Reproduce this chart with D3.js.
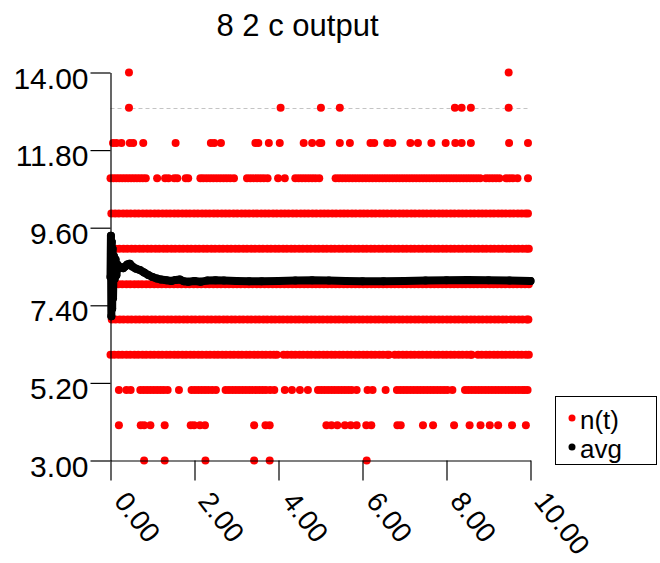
<!DOCTYPE html>
<html>
<head>
<meta charset="utf-8">
<script src="https://cdn.jsdelivr.net/npm/d3@7"></script>
<style>
  html, body { margin: 0; padding: 0; background: #fff; }
  svg { display: block; }
  text { font-family: "Liberation Sans", Arial, Helvetica, sans-serif; }
</style>
</head>
<body>
<svg id="chart" width="660" height="563"></svg>
<script>
// ---------------- data ----------------
const titleText = "8 2 c output";
const xTicks = [0, 2, 4, 6, 8, 10];
const yTicks = [3.0, 5.2, 7.4, 9.6, 11.8, 14.0];
const refLineValue = 13;
const seriesNames = ["n(t)", "avg"];

// n(t): times at which each integer level occurs
const n3 = [0.8, 1.29, 2.26, 3.42, 3.79, 6.1];
const n4 = [0.2, 0.72, 0.8, 0.95, 1.29, 1.91, 1.99, 2.13, 2.25, 3.42, 3.69, 3.79, 5.14, 5.26, 5.4, 5.58, 5.72, 5.86, 6.09, 6.21, 6.83, 6.91, 7.44, 7.68, 8.18, 8.55, 8.81, 9.03, 9.23, 9.56, 9.89];
const n5 = [0.2, 0.38, 0.48, 0.71, 0.79, 0.87, 0.95, 1.03, 1.11, 1.19, 1.27, 1.36, 1.63, 1.93, 2.01, 2.09, 2.17, 2.25, 2.33, 2.42, 2.51, 2.74, 2.82, 2.9, 2.98, 3.06, 3.14, 3.22, 3.3, 3.38, 3.46, 3.54, 3.62, 3.7, 3.8, 3.9, 4.15, 4.32, 4.51, 4.7, 4.94, 5.02, 5.1, 5.18, 5.26, 5.34, 5.42, 5.5, 5.58, 5.66, 5.74, 5.86, 6.12, 6.24, 6.55, 6.82, 6.9, 6.98, 7.06, 7.14, 7.22, 7.3, 7.38, 7.46, 7.54, 7.62, 7.7, 7.78, 7.86, 7.94, 8.02, 8.14, 8.44, 8.52, 8.6, 8.68, 8.76, 8.84, 8.92, 9.0, 9.08, 9.16, 9.24, 9.32, 9.4, 9.48, 9.56, 9.64, 9.72, 9.8, 9.86, 9.93];
const n6 = [0.0, 0.09, 0.19, 0.28, 0.38, 0.47, 0.57, 0.66, 0.76, 0.85, 0.95, 1.04, 1.14, 1.23, 1.33, 1.42, 1.52, 1.61, 1.71, 1.8, 1.9, 1.99, 2.09, 2.18, 2.28, 2.37, 2.47, 2.56, 2.66, 2.75, 2.85, 2.94, 3.04, 3.13, 3.23, 3.32, 3.42, 3.51, 3.61, 3.7, 3.8, 3.89, 3.96, 4.12, 4.21, 4.31, 4.4, 4.5, 4.59, 4.69, 4.78, 4.88, 4.97, 5.07, 5.16, 5.26, 5.35, 5.45, 5.54, 5.64, 5.73, 5.83, 5.92, 6.02, 6.11, 6.21, 6.3, 6.4, 6.49, 6.59, 6.63, 6.77, 6.86, 6.96, 7.05, 7.15, 7.24, 7.34, 7.43, 7.53, 7.62, 7.72, 7.81, 7.91, 8.0, 8.1, 8.19, 8.29, 8.38, 8.48, 8.57, 8.6, 8.75, 8.84, 8.94, 9.03, 9.13, 9.22, 9.32, 9.41, 9.51, 9.6, 9.7, 9.79, 9.89, 9.96];
const n7 = [0.03, 0.12, 0.22, 0.31, 0.41, 0.5, 0.6, 0.69, 0.79, 0.88, 0.98, 1.07, 1.17, 1.26, 1.36, 1.45, 1.55, 1.64, 1.74, 1.83, 1.93, 2.02, 2.12, 2.21, 2.31, 2.4, 2.5, 2.59, 2.69, 2.78, 2.88, 2.97, 3.07, 3.16, 3.26, 3.35, 3.45, 3.54, 3.64, 3.73, 3.83, 3.92, 4.02, 4.11, 4.21, 4.3, 4.4, 4.49, 4.59, 4.68, 4.78, 4.87, 4.97, 5.06, 5.16, 5.25, 5.35, 5.44, 5.54, 5.63, 5.73, 5.82, 5.92, 6.01, 6.11, 6.2, 6.3, 6.39, 6.49, 6.58, 6.68, 6.77, 6.87, 6.96, 7.06, 7.15, 7.25, 7.34, 7.44, 7.53, 7.63, 7.72, 7.82, 7.91, 8.01, 8.1, 8.2, 8.29, 8.39, 8.48, 8.58, 8.67, 8.77, 8.86, 8.96, 9.05, 9.15, 9.24, 9.34, 9.43, 9.53, 9.62, 9.72, 9.81, 9.91, 9.95];
const n8 = [0.1, 0.19, 0.28, 0.38, 0.47, 0.57, 0.66, 0.75, 0.85, 0.94, 1.04, 1.13, 1.22, 1.32, 1.41, 1.51, 1.6, 1.69, 1.79, 1.88, 1.98, 2.07, 2.16, 2.26, 2.35, 2.45, 2.54, 2.63, 2.73, 2.82, 2.92, 3.01, 3.1, 3.2, 3.29, 3.39, 3.48, 3.57, 3.67, 3.76, 3.86, 3.95, 4.04, 4.14, 4.23, 4.33, 4.42, 4.51, 4.61, 4.7, 4.8, 4.89, 4.98, 5.08, 5.17, 5.27, 5.36, 5.45, 5.55, 5.64, 5.74, 5.83, 5.92, 6.02, 6.11, 6.21, 6.3, 6.39, 6.49, 6.58, 6.68, 6.77, 6.86, 6.96, 7.05, 7.15, 7.24, 7.33, 7.43, 7.52, 7.62, 7.71, 7.8, 7.9, 7.99, 8.09, 8.18, 8.27, 8.37, 8.46, 8.56, 8.65, 8.74, 8.84, 8.93, 9.03, 9.12, 9.21, 9.31, 9.4, 9.5, 9.59, 9.68, 9.78, 9.87, 9.96];
const n9 = [0.12, 0.21, 0.31, 0.4, 0.5, 0.59, 0.69, 0.78, 0.88, 0.97, 1.07, 1.16, 1.26, 1.35, 1.45, 1.54, 1.64, 1.73, 1.83, 1.92, 2.02, 2.11, 2.21, 2.3, 2.4, 2.49, 2.59, 2.68, 2.78, 2.87, 2.97, 3.06, 3.16, 3.25, 3.35, 3.44, 3.54, 3.63, 3.73, 3.82, 3.92, 4.01, 4.11, 4.2, 4.3, 4.39, 4.49, 4.58, 4.68, 4.77, 4.87, 4.96, 5.06, 5.15, 5.25, 5.34, 5.44, 5.53, 5.63, 5.72, 5.82, 5.91, 6.01, 6.1, 6.2, 6.29, 6.39, 6.48, 6.58, 6.67, 6.77, 6.86, 6.96, 7.05, 7.15, 7.24, 7.34, 7.43, 7.53, 7.62, 7.72, 7.81, 7.91, 8.0, 8.1, 8.19, 8.29, 8.38, 8.48, 8.57, 8.67, 8.76, 8.86, 8.95, 9.05, 9.14, 9.24, 9.33, 9.43, 9.52, 9.62, 9.71, 9.81, 9.9, 9.96];
const n10 = [0.02, 0.11, 0.2, 0.3, 0.39, 0.48, 0.58, 0.67, 0.77, 0.86, 0.95, 1.05, 1.14, 1.24, 1.33, 1.42, 1.52, 1.61, 1.71, 1.8, 1.89, 1.99, 2.08, 2.18, 2.27, 2.36, 2.46, 2.55, 2.65, 2.74, 2.83, 2.93, 3.02, 3.12, 3.21, 3.3, 3.4, 3.49, 3.59, 3.68, 3.77, 3.87, 3.96, 4.06, 4.15, 4.24, 4.34, 4.43, 4.53, 4.62, 4.71, 4.81, 4.9, 5.0, 5.09, 5.18, 5.28, 5.37, 5.47, 5.56, 5.65, 5.75, 5.84, 5.94, 6.03, 6.12, 6.22, 6.31, 6.41, 6.5, 6.59, 6.69, 6.78, 6.88, 6.97, 7.06, 7.16, 7.25, 7.35, 7.44, 7.53, 7.63, 7.72, 7.82, 7.91, 8.0, 8.1, 8.19, 8.29, 8.38, 8.47, 8.57, 8.66, 8.76, 8.85, 8.94, 9.04, 9.13, 9.23, 9.32, 9.41, 9.51, 9.6, 9.7, 9.79, 9.88, 9.94];
const n11 = [0.0, 0.07, 0.14, 0.21, 0.28, 0.35, 0.42, 0.49, 0.56, 0.63, 0.7, 0.77, 0.84, 1.11, 1.3, 1.38, 1.52, 1.59, 1.79, 1.85, 2.14, 2.21, 2.29, 2.37, 2.45, 2.53, 2.61, 2.69, 2.77, 2.85, 2.94, 3.25, 3.33, 3.41, 3.49, 3.57, 3.65, 3.74, 3.99, 4.15, 4.4, 4.48, 4.56, 4.64, 4.72, 4.8, 4.88, 4.97, 5.36, 5.44, 5.52, 5.6, 5.68, 5.76, 5.84, 5.92, 6.0, 6.08, 6.16, 6.24, 6.32, 6.4, 6.48, 6.56, 6.64, 6.72, 6.8, 6.88, 6.96, 7.04, 7.12, 7.2, 7.28, 7.36, 7.44, 7.52, 7.6, 7.68, 7.76, 7.84, 7.92, 8.0, 8.08, 8.16, 8.24, 8.32, 8.4, 8.48, 8.56, 8.64, 8.72, 8.8, 8.94, 9.02, 9.1, 9.18, 9.26, 9.42, 9.5, 9.58, 9.69, 9.94];
const n12 = [0.06, 0.14, 0.26, 0.46, 0.54, 0.78, 1.55, 2.39, 2.47, 2.63, 3.45, 3.52, 3.77, 4.03, 4.6, 4.8, 4.98, 5.02, 5.46, 5.7, 6.19, 6.28, 6.59, 6.71, 7.14, 7.32, 7.64, 7.98, 8.21, 8.36, 8.58, 9.49, 9.94];
const n13 = [0.44, 4.05, 5.01, 5.46, 8.2, 8.36, 8.58, 9.48];
const n14 = [0.44, 9.48];
const nLevels = [3, 4, 5, 6, 7, 8, 9, 10, 11, 12, 13, 14];
const nTimes = [n3, n4, n5, n6, n7, n8, n9, n10, n11, n12, n13, n14];

// running average
const avgT = [0, 0.01, 0.02, 0.03, 0.04, 0.05, 0.06, 0.08, 0.1, 0.12, 0.14, 0.17, 0.2, 0.25, 0.3, 0.35, 0.4, 0.46, 0.52, 0.6, 0.7, 0.8, 0.9, 1.0, 1.1, 1.2, 1.33, 1.45, 1.55, 1.65, 1.75, 1.85, 2.0, 2.15, 2.3, 2.5, 2.7, 3.0, 3.3, 3.6, 4.0, 4.4, 4.8, 5.2, 5.6, 6.0, 6.5, 7.0, 7.5, 8.0, 8.5, 9.0, 9.5, 10.0];
const avgV = [8.2, 9.37, 7.09, 9.2, 7.3, 9.0, 7.6, 8.8, 8.15, 8.7, 8.25, 8.55, 8.47, 8.48, 8.45, 8.5, 8.56, 8.58, 8.5, 8.44, 8.4, 8.33, 8.26, 8.2, 8.16, 8.13, 8.11, 8.09, 8.12, 8.13, 8.08, 8.07, 8.09, 8.07, 8.1, 8.11, 8.1, 8.09, 8.08, 8.08, 8.09, 8.1, 8.11, 8.1, 8.09, 8.08, 8.08, 8.09, 8.1, 8.11, 8.12, 8.11, 8.1, 8.09];

// ---------------- drawing ----------------
const svg = d3.select("#chart");
const x = d3.scaleLinear().domain([0, 10]).range([110.5, 530.5]);
const y = d3.scaleLinear().domain([3, 14]).range([460.5, 72.5]);
const fmt = d3.format(".2f");

// title
svg.append("text")
  .attr("x", 297.5).attr("y", 36)
  .attr("text-anchor", "middle")
  .attr("font-size", 31)
  .attr("fill", "#000")
  .text(titleText);

// reference dashed line
svg.append("line")
  .attr("x1", x(0)).attr("x2", x(10))
  .attr("y1", Math.round(y(refLineValue)) + 0.5).attr("y2", Math.round(y(refLineValue)) + 0.5)
  .attr("stroke", "#c4c4c4").attr("stroke-width", 1)
  .attr("stroke-dasharray", "4,3");

// n(t) points
const nPts = [];
nLevels.forEach((lv, i) => nTimes[i].forEach(t => nPts.push({ t, v: lv })));
svg.append("g").selectAll("circle").data(nPts).join("circle")
  .attr("cx", d => x(d.t)).attr("cy", d => y(d.v))
  .attr("r", 4).attr("fill", "#ff0000");

// avg
const avgPts = avgT.map((t, i) => ({ t, v: avgV[i] }));
svg.append("path")
  .datum(avgPts)
  .attr("fill", "none").attr("stroke", "#000")
  .attr("stroke-width", 8)
  .attr("stroke-linejoin", "round").attr("stroke-linecap", "round")
  .attr("d", d3.line().x(d => x(d.t)).y(d => y(d.v)));
svg.append("g").selectAll("circle").data(avgPts).join("circle")
  .attr("cx", d => x(d.t)).attr("cy", d => y(d.v))
  .attr("r", 4).attr("fill", "#000");

// axes
const yAxis = svg.append("g")
  .attr("transform", `translate(${x(0)},0)`)
  .call(d3.axisLeft(y).tickValues(yTicks).tickFormat(fmt).tickSize(20).tickSizeOuter(0).tickPadding(2));
yAxis.selectAll("text").attr("font-size", 30).attr("dy", "0.52em").attr("fill", "#000")
  .style("font-family", '"Liberation Sans", Arial, sans-serif');

const xAxis = svg.append("g")
  .attr("transform", `translate(0,${y(3)})`)
  .call(d3.axisBottom(x).tickValues(xTicks).tickFormat(fmt).tickSize(20).tickSizeOuter(0));
xAxis.selectAll("text")
  .attr("font-size", 28).attr("fill", "#000")
  .attr("x", 0).attr("y", 0).attr("dy", 0)
  .attr("text-anchor", "start")
  .attr("transform", "translate(2,41) rotate(52)")
  .style("font-family", '"Liberation Sans", Arial, sans-serif');
svg.selectAll(".domain, .tick line").attr("stroke", "#000").attr("stroke-width", 1.2);

// legend
const lg = svg.append("g");
lg.append("rect").attr("x", 555.5).attr("y", 396.5).attr("width", 101).attr("height", 68)
  .attr("fill", "#fff").attr("stroke", "#000").attr("stroke-width", 1);
const legColors = ["#ff0000", "#000"];
seriesNames.forEach((name, i) => {
  lg.append("circle").attr("cx", 572).attr("cy", 418 + i * 29).attr("r", 3.5).attr("fill", legColors[i]);
  lg.append("text").attr("x", 580).attr("y", 429 + i * 29.2)
    .attr("font-size", 26).attr("fill", "#000").text(name);
});
</script>
</body>
</html>
